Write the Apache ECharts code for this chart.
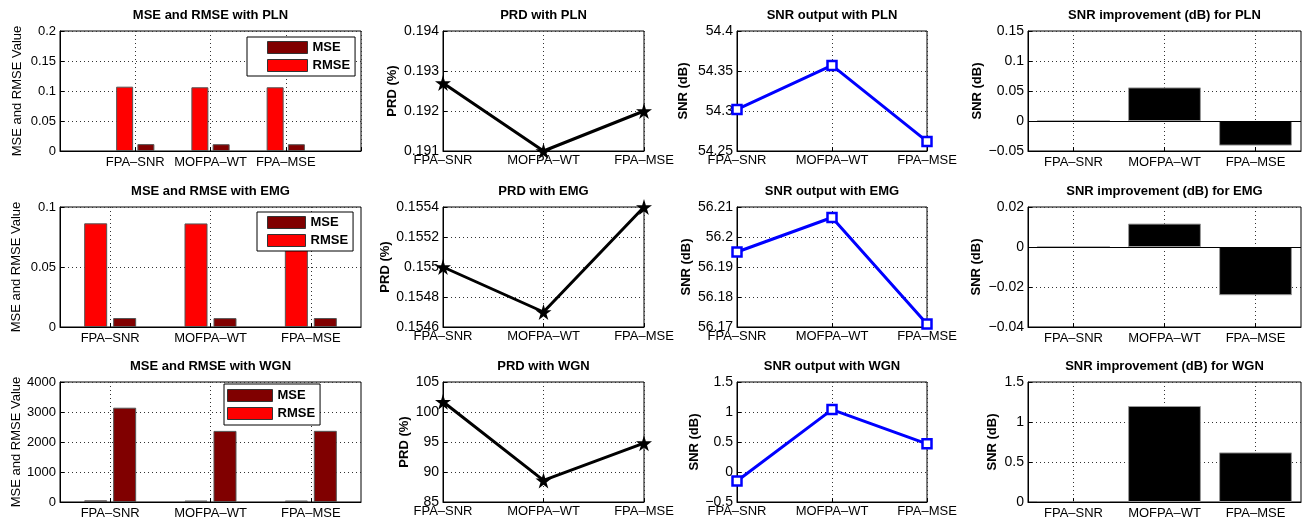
<!DOCTYPE html>
<html>
<head>
<meta charset="utf-8">
<title>MSE, PRD and SNR with PLN, EMG and WGN</title>
<script src="https://cdn.jsdelivr.net/npm/echarts@6/dist/echarts.min.js"></script>
<style>
  html, body { margin: 0; padding: 0; background: #fff; }
  #main { width: 1307px; height: 521px; }
</style>
</head>
<body>
<div id="main"></div>
<script>
const methods = ['FPA–SNR', 'MOFPA–WT', 'FPA–MSE'];
const noises = ['PLN', 'EMG', 'WGN'];

// MSE / RMSE, left bar = RMSE, right bar = MSE
const rmsePLN = [0.1072, 0.1062, 0.1062];
const msePLN = [0.0115, 0.0113, 0.0113];
const rmseEMG = [0.0864, 0.0863, 0.0864];
const mseEMG = [0.0075, 0.0074, 0.0075];
const rmseWGN = [56.1, 48.7, 48.7];
const mseWGN = [3143, 2370, 2372];

// PRD (%)
const prdPLN = [0.1927, 0.1910, 0.1920];
const prdEMG = [0.1550, 0.1547, 0.1554];
const prdWGN = [101.7, 88.6, 94.8];

// SNR output (dB)
const snrPLN = [54.302, 54.357, 54.262];
const snrEMG = [56.195, 56.2065, 56.171];
const snrWGN = [-0.15, 1.04, 0.47];

// SNR improvement (dB)
const impPLN = [0, 0.056, -0.041];
const impEMG = [0, 0.0117, -0.0241];
const impWGN = [0, 1.2, 0.62];

// axis ranges [min, max, interval]
const barRange = [[0, 0.2, 0.05], [0, 0.1, 0.05], [0, 4000, 1000]];
const prdRange = [[0.191, 0.194, 0.001], [0.1546, 0.1554, 0.0002], [85, 105, 5]];
const snrRange = [[54.25, 54.4, 0.05], [56.17, 56.21, 0.01], [-0.5, 1.5, 0.5]];
const impRange = [[-0.05, 0.15, 0.05], [-0.04, 0.02, 0.02], [0, 1.5, 0.5]];

const rmseRows = [rmsePLN, rmseEMG, rmseWGN];
const mseRows = [msePLN, mseEMG, mseWGN];
const prdRows = [prdPLN, prdEMG, prdWGN];
const snrRows = [snrPLN, snrEMG, snrWGN];
const impRows = [impPLN, impEMG, impWGN];

// layout
const colLeft = [60, 443, 737, 1028];
const colWidth = [301, 201, 190, 273];
const rowTop = [31, 207, 382];
const gridHeight = 120;
const nameGaps = [[36, 44, 47, 44], [37, 49, 44, 45], [37, 32, 36, 29]];
const legendPos = [[247, 37], [257, 212], [224, 384]];
const legendPad = [[4, 5, 4, 20], [4, 5, 4, 10], [5, 5, 5, 3]];
const legendIconW = [40, 38, 45];
const leftBarColor = ['#ff0000', '#ff0000', '#800000'];

const FONT = '"Liberation Sans", Arial, Helvetica, sans-serif';
const STAR = 'path://M50,0 L61,35 L98,35 L68,57 L79,91 L50,70 L21,91 L32,57 L2,35 L39,35 Z';

function fmt(v) {
    let s = String(+(+v).toFixed(6));
    return s.replace('-', '−');
}

function dotted(align) {
    return {
        show: true,
        alignWithLabel: align,
        interval: 0,
        lineStyle: { color: '#333', width: 1, type: [1, 3] }
    };
}

const grid = [], xAxis = [], yAxis = [], series = [], title = [], legend = [];

for (let r = 0; r < 3; r++) {
    for (let c = 0; c < 4; c++) {
        const idx = r * 4 + c;
        grid.push({
            left: colLeft[c], top: rowTop[r], width: colWidth[c], height: gridHeight,
            show: true, borderColor: '#000', borderWidth: 1, backgroundColor: '#fff'
        });

        let titleText, range, yName;
        if (c === 0) { titleText = 'MSE and RMSE with ' + noises[r]; range = barRange[r]; yName = 'MSE and RMSE Value'; }
        if (c === 1) { titleText = 'PRD with ' + noises[r]; range = prdRange[r]; yName = 'PRD (%)'; }
        if (c === 2) { titleText = 'SNR output with ' + noises[r]; range = snrRange[r]; yName = 'SNR (dB)'; }
        if (c === 3) { titleText = 'SNR improvement (dB) for ' + noises[r]; range = impRange[r]; yName = 'SNR (dB)'; }

        title.push({
            text: titleText,
            left: colLeft[c] + colWidth[c] / 2,
            top: rowTop[r] - 22,
            textAlign: 'center',
            padding: 0,
            textStyle: { fontSize: 13, fontWeight: 'bold', color: '#000', fontFamily: FONT }
        });

        const padded = (c === 0 && r === 0);
        const isLine = (c === 1 || c === 2);
        xAxis.push({
            type: 'category',
            gridIndex: idx,
            data: padded ? [''].concat(methods, ['']) : methods,
            boundaryGap: !(isLine || padded),
            axisLine: { show: true, onZero: false, lineStyle: { color: '#000' } },
            axisTick: { show: true, inside: true, length: 4, alignWithLabel: true, interval: 0, lineStyle: { color: '#000' } },
            axisLabel: { interval: 0, fontSize: 13, color: '#000', fontFamily: FONT, margin: isLine ? 3 : 5 },
            splitLine: dotted(!(isLine || padded))
        });

        yAxis.push({
            type: 'value',
            gridIndex: idx,
            min: range[0], max: range[1], interval: range[2],
            name: yName,
            nameLocation: 'middle',
            nameGap: nameGaps[r][c],
            nameTextStyle: { fontSize: 13, fontWeight: c === 0 ? 'normal' : 'bold', color: '#000', fontFamily: FONT },
            axisLine: { show: true, lineStyle: { color: '#000' } },
            axisTick: { show: true, inside: true, length: 4, lineStyle: { color: '#000' } },
            axisLabel: { fontSize: c === 0 ? 13 : 14, color: '#000', fontFamily: FONT, margin: 4, formatter: fmt },
            splitLine: dotted(false)
        });

        if (c === 0) {
            const wrap = arr => padded ? [null].concat(arr, [null]) : arr;
            series.push({
                type: 'bar', name: 'RMSE', xAxisIndex: idx, yAxisIndex: idx,
                data: wrap(rmseRows[r]),
                barWidth: padded ? 17 : 23, barGap: padded ? '25%' : '26%',
                itemStyle: { color: leftBarColor[r], borderColor: '#555', borderWidth: 1 }
            });
            series.push({
                type: 'bar', name: 'MSE', xAxisIndex: idx, yAxisIndex: idx,
                data: wrap(mseRows[r]),
                barWidth: padded ? 17 : 23, barGap: padded ? '25%' : '26%',
                itemStyle: { color: '#800000', borderColor: '#555', borderWidth: 1 }
            });
            legend.push({
                orient: 'vertical',
                left: legendPos[r][0], top: legendPos[r][1],
                padding: legendPad[r], itemGap: 5, itemWidth: legendIconW[r], itemHeight: 12,
                icon: 'rect', backgroundColor: '#fff', borderColor: '#000', borderWidth: 1,
                selectedMode: false, z: 10,
                textStyle: { fontSize: 13, fontWeight: 'bold', color: '#000', fontFamily: FONT },
                data: [
                    { name: 'MSE', itemStyle: { color: '#800000', borderColor: '#333', borderWidth: 1 } },
                    { name: 'RMSE', itemStyle: { color: '#ff0000', borderColor: '#333', borderWidth: 1 } }
                ]
            });
        } else if (c === 1) {
            series.push({
                type: 'line', name: 'PRD ' + noises[r], xAxisIndex: idx, yAxisIndex: idx,
                data: prdRows[r], clip: false,
                symbol: STAR, symbolSize: 16,
                lineStyle: { color: '#000', width: 3 },
                itemStyle: { color: '#000' }
            });
        } else if (c === 2) {
            series.push({
                type: 'line', name: 'SNR ' + noises[r], xAxisIndex: idx, yAxisIndex: idx,
                data: snrRows[r], clip: false,
                symbol: 'rect', symbolSize: 9,
                lineStyle: { color: '#0000ff', width: 3 },
                itemStyle: { color: '#ffffff', borderColor: '#0000ff', borderWidth: 2.5 }
            });
        } else {
            series.push({
                type: 'bar', name: 'Improvement ' + noises[r], xAxisIndex: idx, yAxisIndex: idx,
                data: impRows[r], barWidth: '80%',
                itemStyle: { color: '#000', borderColor: '#999', borderWidth: 1 },
                markLine: {
                    silent: true, symbol: ['none', 'none'],
                    label: { show: false },
                    lineStyle: { color: '#000', width: 1, type: 'solid' },
                    data: [{ yAxis: 0 }]
                }
            });
        }
    }
}

const myChart = echarts.init(document.getElementById('main'));
const option = {
    backgroundColor: '#fff',
    animation: false,
    title: title,
    legend: legend,
    grid: grid,
    xAxis: xAxis,
    yAxis: yAxis,
    series: series
};
option && myChart.setOption(option);
</script>
</body>
</html>
